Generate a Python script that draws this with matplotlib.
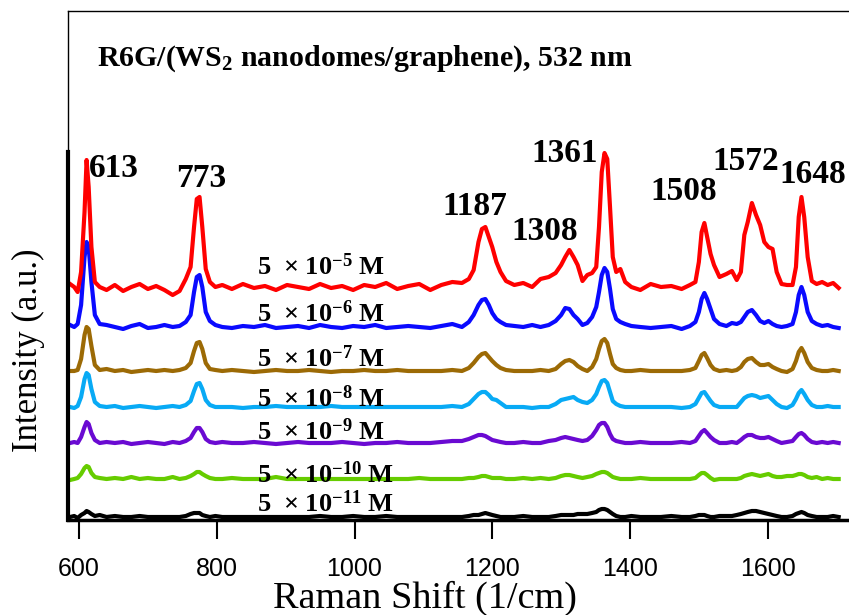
import matplotlib
matplotlib.use("Agg")
import matplotlib.pyplot as plt

# Raman shift grid (1/cm), shared by all spectra
shift = [587, 593, 598, 603, 608, 611, 614, 618, 623, 630, 640,
         652, 664, 676, 688, 700, 712, 724, 736, 746, 755,
         762, 767, 771, 775, 779, 784, 790, 798, 808,
         822, 838, 854, 870, 886, 902, 918, 934, 950, 966, 982,
         998, 1014, 1030, 1046, 1062, 1078, 1094, 1110, 1126, 1142, 1156,
         1166, 1173, 1180, 1185, 1190, 1195, 1200, 1206, 1212, 1220, 1232,
         1245, 1258, 1270, 1282, 1292,
         1300, 1306, 1312, 1318, 1324, 1331, 1338, 1345,
         1351, 1355, 1359, 1363, 1367, 1371, 1375, 1380, 1386, 1393, 1402,
         1415, 1430, 1445, 1460, 1475, 1487,
         1495, 1500, 1504, 1508, 1512, 1517, 1522, 1530, 1540, 1548, 1555,
         1561, 1566, 1571, 1577, 1583, 1589, 1595, 1601, 1607, 1613, 1620, 1628,
         1636, 1641, 1645, 1649, 1653, 1658, 1664, 1671, 1679, 1687, 1695, 1703]

# intensities above each spectrum's own baseline (a.u.)
i_5e5 = [3, 0, -5, 15, 75, 127, 100, 40, 5, 0, -3,
         2, -4, 0, 3, -2, 1, -3, -8, -4, 8,
         20, 60, 88, 90, 60, 18, 5, 0, 2,
         -2, 3, -1, 1, -3, 2, 0, -2, 3, -1, 1,
         -3, 2, 0, 4, -2, 1, 3, -3, 2, 5, 4,
         8, 17, 45, 58, 60, 50, 40, 25, 15, 6, 2,
         4, 0, 8, 10, 14,
         22, 30, 37, 30, 22, 6, 12, 14,
         20, 60, 115, 134, 128, 80, 30, 15, 18, 5, 0,
         -3, 3, 0, 1, -2, 2,
         5, 25, 55, 64, 50, 33, 22, 10, 13, 16, 7,
         15, 52, 65, 84, 72, 62, 45, 40, 38, 15, 3, 2,
         2, 20, 70, 90, 70, 30, 6, 3, 5, 2, 4, -1]
i_5e6 = [2, 0, 3, 22, 70, 85, 80, 45, 12, 3, 2,
         0, -2, 1, 3, -1, 0, 2, 0, 1, 5,
         12, 35, 50, 52, 40, 15, 6, 2, 0,
         -1, 1, 0, 2, -1, 0, 1, -1, 2, 0, -1,
         1, 0, 2, -1, 0, 1, 0, -1, 1, 3, 0,
         5, 12, 22, 27, 28, 22, 14, 8, 5, 2, 1,
         0, 2, 0, 2, 6,
         12, 19, 18, 12, 8, 2, 4, 10,
         20, 35, 52, 59, 55, 38, 18, 8, 5, 3, 1,
         0, -1, 0, 1, -2, 1,
         5, 15, 28, 34, 28, 18, 8, 3, 1, 4, 3,
         5, 10, 15, 17, 12, 6, 4, 6, 3, 1, 0, 1,
         3, 15, 32, 40, 32, 15, 6, 3, 1, 2, 0, -1]
i_5e7 = [0, 0, 1, 12, 36, 44, 42, 25, 6, 1, 2,
         0, 1, -1, 0, 1, 0, 1, 0, 1, 3,
         8, 20, 28, 29, 22, 8, 2, 1, 0,
         1, 0, -1, 0, 1, 0, 0, 1, 0, -1, 0,
         0, 1, 0, 0, 1, 0, 0, 0, 0, 1, 0,
         3, 8, 14, 17, 18, 14, 10, 6, 3, 1, 0,
         0, 0, 1, 0, 2,
         7, 10, 11, 9, 5, 2, 0, 4,
         12, 22, 30, 32, 28, 17, 7, 3, 1, 0, 0,
         1, 0, 0, 0, 0, 1,
         3, 10, 16, 18, 13, 6, 2, 0, 1, 0, 1,
         4, 9, 12, 13, 9, 6, 6, 7, 4, 2, 0, -1,
         2, 10, 19, 23, 18, 9, 3, 1, 0, 0, 1, 0]
i_5e8 = [0, -1, 1, 10, 28, 34, 32, 18, 5, 1, 0,
         1, -1, 0, 1, 0, -1, 0, 1, 0, 2,
         6, 16, 23, 24, 18, 7, 2, 0, 0,
         0, -1, 0, 0, 1, 0, 0, 0, 0, 1, 0,
         0, 0, 0, 0, 0, 0, 0, 0, 0, 1, 0,
         3, 8, 13, 15, 15, 12, 8, 7, 4, 0, 0,
         0, -1, 0, 0, 3,
         7, 8, 9, 10, 7, 5, 4, 7,
         13, 20, 26, 27, 24, 15, 6, 3, 1, 0, 0,
         0, 0, 0, 0, -1, 0,
         3, 9, 14, 15, 11, 6, 2, 0, 0, 0, 0,
         5, 9, 11, 12, 11, 9, 10, 11, 7, 3, 0, -1,
         2, 8, 14, 17, 13, 7, 2, 0, 0, 1, 0, 0]
i_5e9 = [0, 1, 0, 6, 16, 21, 19, 10, 3, 0, 1,
         0, 1, -1, 0, 1, 0, -1, 1, 0, 2,
         5, 11, 15, 15, 11, 4, 1, 0, 1,
         0, 0, 1, 0, -1, 0, 1, 0, 0, 0, 1,
         0, -1, 0, 0, 1, 0, 0, 0, 1, 2, 2,
         4, 6, 8, 8, 7, 5, 3, 2, 1, 0, 0,
         1, 0, 0, 2, 3,
         5, 6, 5, 4, 3, 2, 3, 7,
         13, 18, 20, 20, 16, 9, 4, 2, 1, 0, 0,
         1, 0, 0, 0, 1, 0,
         2, 7, 11, 13, 10, 6, 3, 0, 0, 1, 0,
         3, 6, 8, 8, 6, 5, 5, 6, 4, 2, 0, 1,
         2, 6, 9, 10, 8, 4, 1, 0, 1, 0, 1, 0]
i_5e10 = [-1, 0, 1, 5, 11, 13, 12, 6, 2, 1, 0,
          1, 0, 2, 0, 1, 0, 0, 2, 0, 1,
          3, 5, 7, 7, 5, 3, 1, 0, 0,
          1, 0, 0, 0, 2, 0, 0, 0, 0, 0, 0,
          0, 0, 0, 0, 0, 0, 1, 0, 0, 0, 0,
          1, 1, 2, 3, 3, 2, 1, 1, 1, 0, 0,
          1, 0, 1, 0, 1,
          3, 4, 4, 3, 2, 1, 2, 3,
          5, 6, 7, 7, 6, 4, 2, 1, 0, 0, 0,
          1, 0, 0, 0, 0, 0,
          1, 4, 6, 6, 4, 1, -1, 0, 0, 0, 0,
          1, 3, 4, 5, 4, 3, 4, 5, 3, 2, 2, 3,
          3, 4, 5, 5, 4, 2, 1, 2, 0, 1, 0, 0]
i_5e11 = [0, 1, -1, 2, 4, 6, 5, 3, 1, 2, 0,
          1, 0, 0, 1, 0, 0, 0, 0, 0, 1,
          3, 4, 4, 4, 2, 1, 0, 1, 0,
          0, 0, 0, 0, 0, 0, 0, 0, 1, 0, 0,
          1, 0, 0, 1, 0, 0, 0, 0, 0, 0, 0,
          1, 2, 2, 3, 4, 3, 2, 1, 0, 0, 0,
          1, 0, 0, 0, 1,
          2, 2, 2, 2, 3, 3, 3, 4,
          5, 7, 8, 8, 7, 5, 3, 1, 0, 0, 1,
          0, 0, 0, 1, 0, 0,
          1, 2, 2, 2, 1, 0, 0, 1, 1, 1, 2,
          3, 4, 5, 6, 6, 5, 4, 3, 2, 1, 0, 0,
          1, 3, 4, 5, 4, 2, 1, 0, 0, 0, 1, 0]

spectra = [i_5e5, i_5e6, i_5e7, i_5e8, i_5e9, i_5e10, i_5e11]
offsets = [233, 193, 149, 113, 77, 41, 3]
colors = ['#ff0000', '#0a0aff', '#9c6a05', '#08aaf5', '#6a0ad2', '#66cc00', '#000000']
exponents = ['-5', '-6', '-7', '-8', '-9', '-10', '-11']
conc_y = [245, 198, 153, 113, 80, 37, 8]

peak_labels = ['613', '773', '1187', '1308', '1361', '1508', '1572', '1648']
peak_x = [650, 777, 1175, 1276, 1305, 1478, 1568, 1665]
peak_y = [343, 333, 305, 280, 358, 320, 350, 337]

for s in spectra:
    assert len(s) == len(shift), len(s)

plt.rcParams['mathtext.fontset'] = 'custom'
plt.rcParams['mathtext.rm'] = 'Liberation Serif:bold'
plt.rcParams['mathtext.it'] = 'Liberation Serif:bold'
plt.rcParams['mathtext.bf'] = 'Liberation Serif:bold'

fig = plt.figure(figsize=(8.49, 6.15), dpi=100)
ax = fig.add_axes([68/849, 95/615, 781/849, 509/615])

for s, off, c in zip(spectra[::-1], offsets[::-1], colors[::-1]):
    ax.plot(shift, [v + off for v in s], color=c, lw=3, solid_joinstyle='round')

ax.set_xlim(584, 1718)
ax.set_ylim(0, 509)

serif = 'Liberation Serif'
for lab, xx, yy in zip(peak_labels, peak_x, peak_y):
    ax.text(xx, yy, lab, ha='center', va='baseline', fontsize=24,
            fontweight='bold', family=serif)

for e, yy in zip(exponents, conc_y):
    ax.text(859, yy, '5  \u00d7 10$^{%s}$ M' % e, ha='left', va='baseline',
            fontsize=19, fontweight='bold', family=serif)

fig.text(97/849, 1 - 66/615, 'R6G/(WS$_2$ nanodomes/graphene), 532 nm',
         ha='left', va='baseline', fontsize=21.5, fontweight='bold', family=serif)

# spines
ax.spines['right'].set_visible(False)
ax.spines['top'].set_linewidth(1)
ax.spines['left'].set_linewidth(1)
ax.spines['bottom'].set_linewidth(2.5)
ax.axvline(584, ymin=0, ymax=(520-152)/509, color='k', lw=3, clip_on=False)

ax.set_xticks([600, 800, 1000, 1200, 1400, 1600])
ax.set_yticks([])
ax.tick_params(axis='x', direction='out', length=14, width=1.5, pad=13,
               labelsize=18)
for t in ax.get_xticklabels():
    t.set_family('Liberation Sans')

fig.text(425/849, 1 - 598/615, 'Raman Shift (1/cm)', ha='center', va='center',
         fontsize=27.5, family=serif)
fig.text(28/849, 1 - 350/615, 'Intensity (a.u.)', ha='center', va='center',
         rotation=90, fontsize=25, family=serif)

fig.savefig('out.png', dpi=100)
